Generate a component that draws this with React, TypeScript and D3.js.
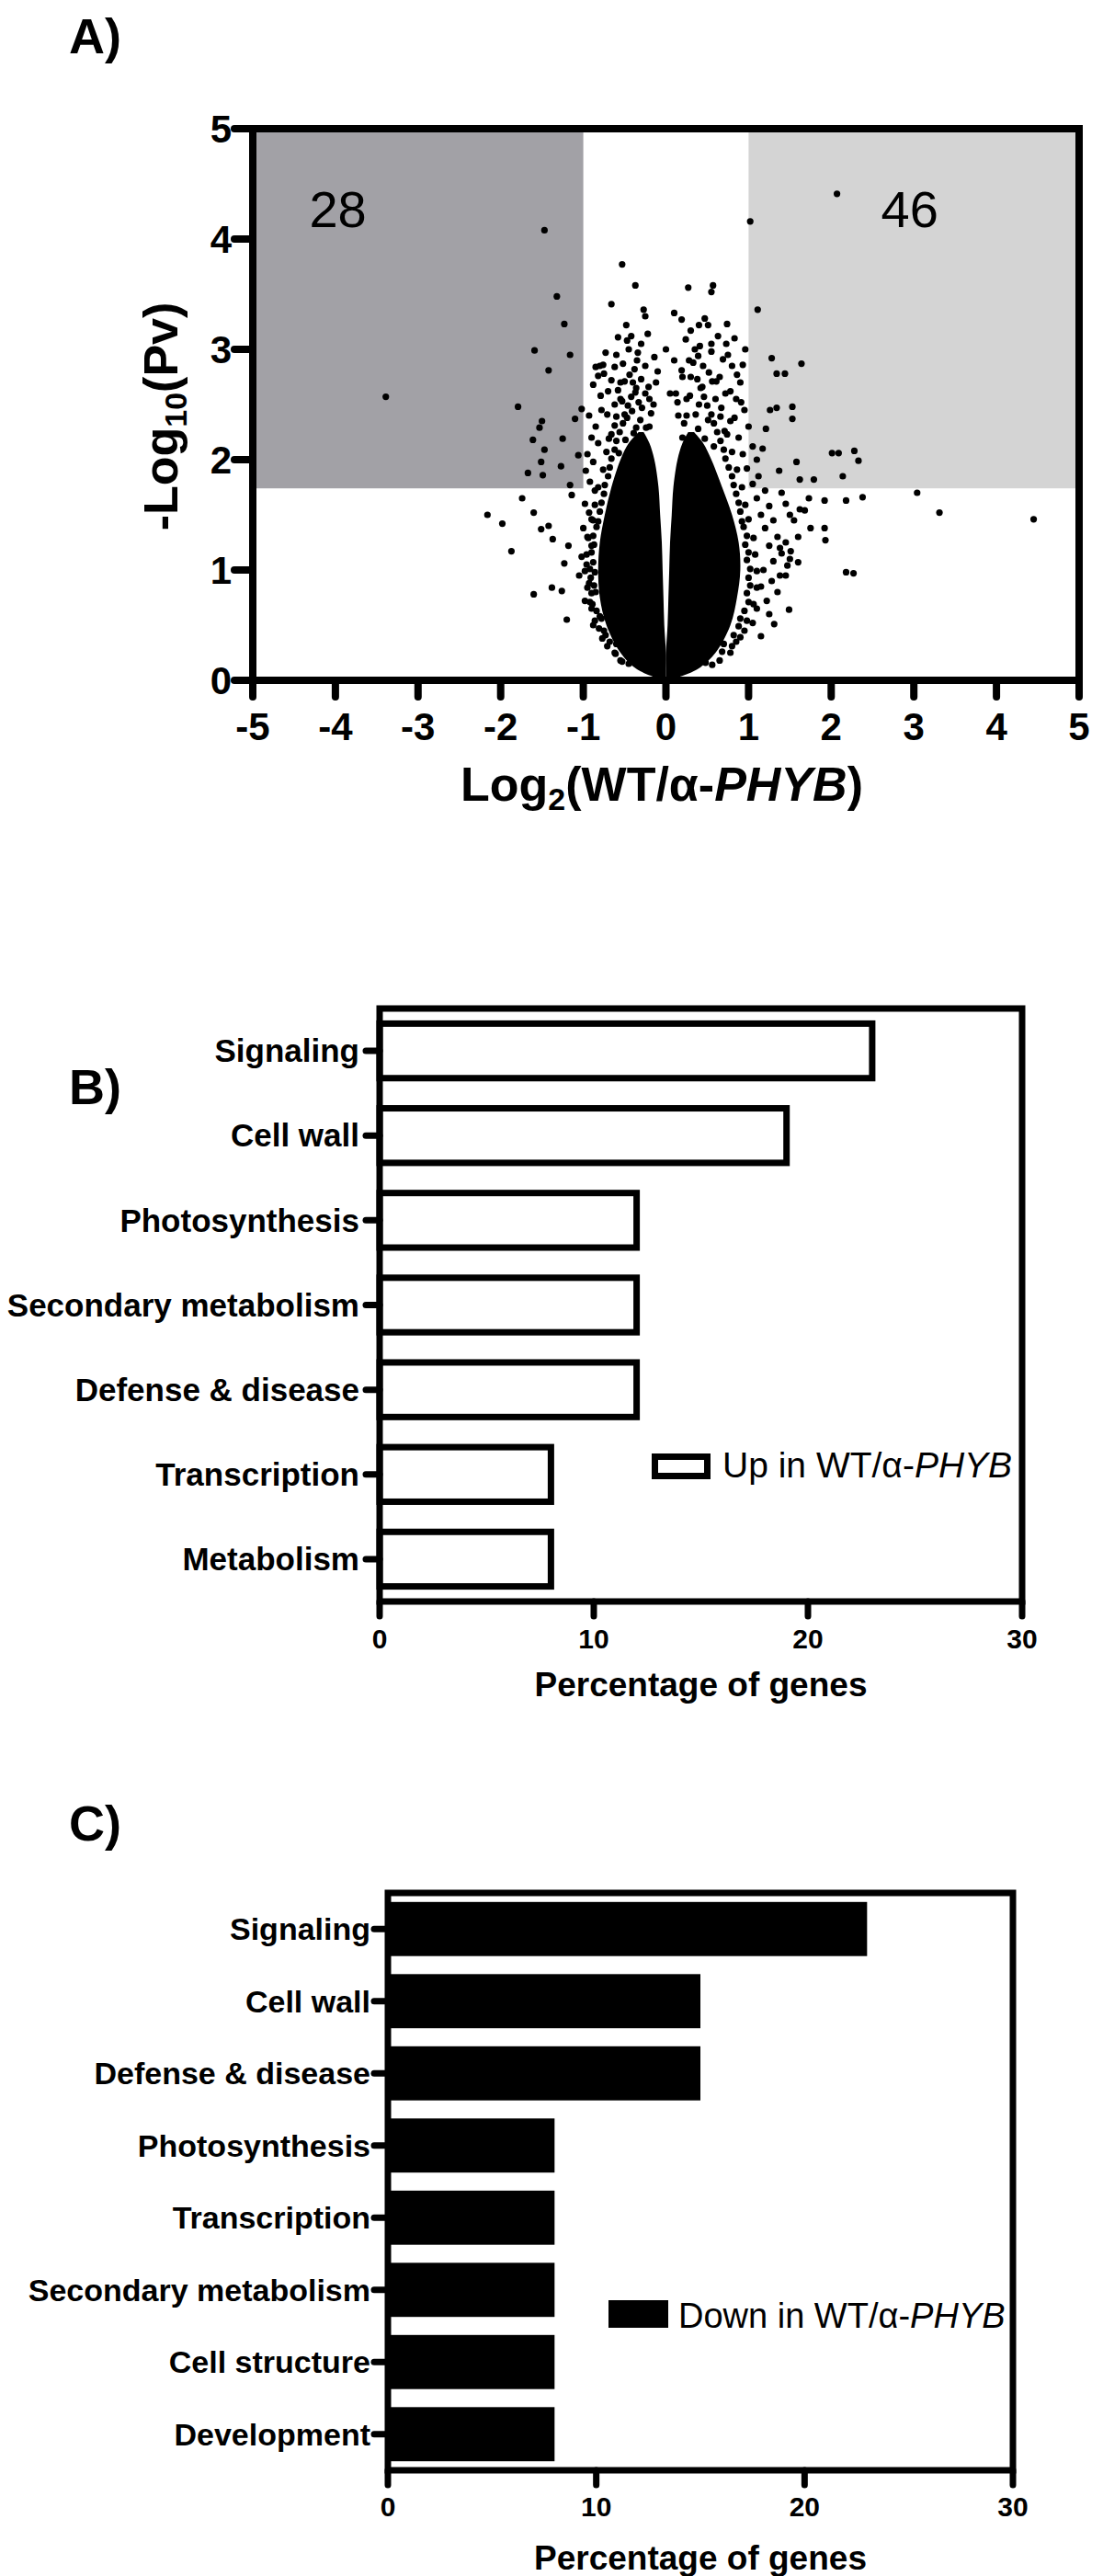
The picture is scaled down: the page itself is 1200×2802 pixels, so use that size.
import React from "react";
import * as d3 from "d3";

// ---------- Panel A data ----------
const volcanoXTicks = [-5, -4, -3, -2, -1, 0, 1, 2, 3, 4, 5];
const volcanoYTicks = [0, 1, 2, 3, 4, 5];
const pThreshold = 1.74;
const foldThreshold = 1;
const countDown = "28";
const countUp = "46";

// dense core of the volcano (solid black envelope)
const coreLeft = [
  { y: 0.0, x0: -0.03, x1: 0.0 },
  { y: 0.1, x0: -0.35, x1: 0.0 },
  { y: 0.25, x0: -0.55, x1: 0.0 },
  { y: 0.5, x0: -0.72, x1: -0.02 },
  { y: 0.75, x0: -0.8, x1: -0.03 },
  { y: 1.0, x0: -0.82, x1: -0.04 },
  { y: 1.25, x0: -0.8, x1: -0.05 },
  { y: 1.5, x0: -0.74, x1: -0.07 },
  { y: 1.75, x0: -0.66, x1: -0.09 },
  { y: 2.0, x0: -0.55, x1: -0.14 },
  { y: 2.15, x0: -0.45, x1: -0.2 },
  { y: 2.25, x0: -0.33, x1: -0.27 },
];
const coreRight = [
  { y: 0.0, x0: 0.0, x1: 0.03 },
  { y: 0.1, x0: 0.0, x1: 0.38 },
  { y: 0.25, x0: 0.0, x1: 0.6 },
  { y: 0.5, x0: 0.02, x1: 0.78 },
  { y: 0.75, x0: 0.03, x1: 0.86 },
  { y: 1.0, x0: 0.04, x1: 0.9 },
  { y: 1.25, x0: 0.05, x1: 0.88 },
  { y: 1.5, x0: 0.07, x1: 0.8 },
  { y: 1.75, x0: 0.09, x1: 0.68 },
  { y: 2.0, x0: 0.14, x1: 0.55 },
  { y: 2.15, x0: 0.2, x1: 0.45 },
  { y: 2.25, x0: 0.27, x1: 0.34 },
];

// individual genes outside the dense core: [log2 ratio, -log10 p]
const genePoints: [number, number][] = [
  // left outliers
  [-3.39, 2.57], [-1.47, 4.08], [-1.32, 3.48], [-1.23, 3.23], [-1.16, 2.95],
  [-1.59, 2.99], [-1.42, 2.81], [-1.79, 2.48], [-1.02, 2.46], [-1.1, 2.37],
  [-1.5, 2.35], [-1.53, 2.29], [-1.61, 2.18], [-1.25, 2.19], [-1.47, 2.09],
  [-1.67, 1.88], [-1.51, 1.98], [-1.49, 1.86], [-1.27, 1.94], [-1.16, 1.77],
  [-1.74, 1.65], [-1.6, 1.52], [-2.16, 1.5], [-1.98, 1.42], [-1.51, 1.37],
  [-1.42, 1.4], [-1.87, 1.17], [-1.37, 1.28], [-1.18, 1.22], [-1.23, 1.06],
  [-1.38, 0.84], [-1.6, 0.78], [-1.26, 0.81], [-1.2, 0.55], [-1.14, 1.68],
  [-1.06, 2.04],
  // right outliers
  [1.02, 4.16], [2.07, 4.41], [1.11, 3.36], [1.28, 2.92], [1.34, 2.78],
  [1.44, 2.78], [1.64, 2.87], [1.26, 2.45], [1.34, 2.47], [1.53, 2.48],
  [1.53, 2.37], [1.21, 2.28], [1.17, 2.1], [1.58, 1.98], [1.37, 1.9],
  [1.62, 1.82], [1.79, 1.82], [2.01, 2.06], [2.09, 2.06], [2.28, 2.08],
  [2.33, 1.99], [2.14, 1.85], [2.18, 1.63], [2.38, 1.66], [1.92, 1.63],
  [1.73, 1.65], [3.04, 1.7], [3.31, 1.52], [4.45, 1.46], [1.92, 1.38],
  [1.93, 1.27], [1.75, 1.38], [1.62, 1.55], [1.68, 1.54], [2.18, 0.98],
  [2.27, 0.97], [1.49, 0.64], [1.6, 1.07], [1.47, 1.04], [1.51, 1.17],
  [1.31, 0.51], [1.38, 0.95],
  // above the core
  [-0.53, 3.77], [-0.37, 3.58], [-0.66, 3.41], [0.27, 3.56], [0.57, 3.58],
  [0.55, 3.52], [-0.27, 3.36], [-0.25, 3.3], [0.1, 3.33], [0.19, 3.27],
  [0.4, 3.22], [0.51, 3.22], [0.74, 3.23], [0.83, 3.1], [-0.48, 3.22],
  [-0.42, 3.12], [0.96, 3.0], [-0.76, 2.86], [-0.82, 2.76], [0.93, 2.86],
  // left halo
  [-0.85, 2.84], [-0.8, 2.85], [-0.75, 2.78], [-0.7, 2.62], [-0.88, 2.68],
  [-0.78, 2.45], [-0.93, 2.4], [-0.85, 2.3], [-0.9, 2.2], [-0.82, 2.15],
  [-0.95, 2.05], [-0.88, 1.98], [-0.97, 1.9], [-0.92, 1.8], [-0.86, 1.72],
  [-0.98, 1.6], [-0.93, 1.52], [-0.88, 1.45], [-1.0, 1.38], [-0.95, 1.3],
  [-0.9, 1.22], [-1.02, 1.12], [-0.96, 1.05], [-0.86, 0.98], [-1.05, 0.95],
  [-0.93, 0.88], [-0.85, 0.8], [-0.98, 0.72], [-0.9, 0.65], [-0.8, 0.58],
  [-0.88, 0.5], [-0.75, 0.45], [-0.68, 0.35], [-0.62, 0.25], [-0.55, 0.18],
  [-0.62, 2.5], [-0.4, 2.7], [-0.55, 2.7], [-0.35, 2.9], [-0.45, 3.0],
  [-0.6, 2.95], [-0.3, 3.05], [-0.38, 2.82], [-0.25, 2.6],
  // left lobe edge
  [-0.45, 0.15], [-0.53, 0.17], [-0.61, 0.24], [-0.6, 0.33], [-0.71, 0.31],
  [-0.73, 0.41], [-0.77, 0.38], [-0.81, 0.47], [-0.78, 0.56], [-0.86, 0.54],
  [-0.84, 0.63], [-0.89, 0.69], [-0.92, 0.71], [-0.9, 0.79], [-0.87, 0.86],
  [-0.95, 0.84], [-0.91, 0.93], [-0.92, 1.01], [-0.98, 0.99], [-0.88, 1.07],
  [-0.9, 1.16], [-0.96, 1.14], [-0.87, 1.23], [-0.88, 1.31], [-0.94, 1.29],
  [-0.84, 1.39], [-0.82, 1.44], [-0.9, 1.46], [-0.8, 1.53], [-0.78, 1.61],
  [-0.86, 1.59], [-0.75, 1.69], [-0.74, 1.77], [-0.82, 1.75], [-0.7, 1.85],
  [-0.68, 1.93], [-0.76, 1.91], [-0.66, 2.01], [-0.62, 2.09], [-0.72, 2.07],
  [-0.6, 2.17], [-0.56, 2.25], [-0.66, 2.23], [-0.52, 2.33], [-0.5, 2.41],
  [-0.6, 2.39], [-0.46, 2.49], [-0.42, 2.57], [-0.55, 2.55], [-0.36, 2.65],
  [-0.3, 2.73], [-0.5, 2.71],
  // left upper cloud
  [-0.62, 2.31], [-0.47, 2.38], [-0.33, 2.52], [-0.71, 2.41], [-0.58, 2.63],
  [-0.29, 2.47], [-0.44, 2.77], [-0.66, 2.72], [-0.52, 2.87], [-0.21, 2.66],
  [-0.37, 2.61], [-0.79, 2.58], [-0.49, 2.18], [-0.36, 2.29], [-0.27, 2.17],
  [-0.57, 2.06], [-0.41, 2.44], [-0.69, 2.19], [-0.53, 2.53], [-0.31, 2.36],
  [-0.18, 2.42], [-0.62, 2.84], [-0.34, 2.97], [-0.73, 2.97], [-0.14, 2.93],
  [-0.47, 3.08], [-0.22, 3.14], [-0.58, 3.11], [-0.39, 2.24], [-0.24, 2.29],
  // right halo
  [0.75, 2.95], [0.8, 2.85], [0.65, 2.75], [0.9, 2.7], [0.72, 2.6],
  [0.85, 2.55], [0.95, 2.45], [0.78, 2.35], [1.0, 2.3], [0.88, 2.2],
  [1.05, 2.12], [0.93, 2.05], [1.1, 2.0], [0.98, 1.92], [1.12, 1.85],
  [1.05, 1.78], [1.2, 1.72], [1.1, 1.65], [1.25, 1.58], [1.15, 1.5],
  [1.3, 1.45], [1.2, 1.38], [1.35, 1.3], [1.25, 1.22], [1.4, 1.15],
  [1.3, 1.08], [1.18, 1.0], [1.45, 0.95], [1.28, 0.9], [1.15, 0.85],
  [1.35, 0.8], [1.22, 0.72], [1.1, 0.65], [1.25, 0.6], [1.05, 0.52],
  [0.95, 0.45], [1.15, 0.4], [0.85, 0.35], [0.78, 0.25], [0.65, 0.18],
  [0.45, 2.85], [0.35, 3.0], [0.55, 3.05], [0.3, 2.75], [0.25, 2.55],
  [0.4, 2.5], [1.5, 1.5], [1.55, 1.45], [1.45, 1.6], [1.4, 1.7],
  [1.38, 1.2], [1.5, 1.1], [1.45, 1.25], [1.6, 1.3],
  // right lobe edge
  [0.48, 0.16], [0.56, 0.14], [0.68, 0.26], [0.7, 0.33], [0.8, 0.31],
  [0.82, 0.41], [0.9, 0.39], [0.88, 0.49], [0.9, 0.56], [0.98, 0.54],
  [0.95, 0.63], [1.0, 0.71], [1.06, 0.69], [0.98, 0.79], [1.02, 0.86],
  [1.1, 0.84], [1.0, 0.93], [1.02, 1.01], [1.1, 0.99], [0.98, 1.09],
  [1.0, 1.16], [1.08, 1.14], [0.96, 1.23], [0.98, 1.31], [1.06, 1.29],
  [0.94, 1.39], [0.92, 1.44], [1.0, 1.46], [0.9, 1.53], [0.88, 1.61],
  [0.96, 1.59], [0.85, 1.69], [0.82, 1.77], [0.92, 1.75], [0.8, 1.85],
  [0.76, 1.93], [0.86, 1.91], [0.72, 2.01], [0.7, 2.09], [0.8, 2.07],
  [0.66, 2.17], [0.62, 2.25], [0.74, 2.23], [0.58, 2.33], [0.55, 2.41],
  [0.66, 2.39], [0.5, 2.49], [0.46, 2.57], [0.6, 2.55], [0.42, 2.65],
  [0.38, 2.73], [0.56, 2.71],
  // right upper cloud
  [0.22, 2.33], [0.36, 2.41], [0.51, 2.36], [0.67, 2.47], [0.29, 2.58],
  [0.44, 2.66], [0.61, 2.71], [0.78, 2.62], [0.19, 2.81], [0.33, 2.88],
  [0.52, 2.79], [0.69, 2.91], [0.86, 2.77], [0.41, 3.03], [0.63, 3.12],
  [0.24, 3.09], [0.47, 2.19], [0.58, 2.12], [0.71, 2.26], [0.31, 2.21],
  [0.83, 2.38], [0.39, 2.94], [0.14, 2.52], [0.55, 2.98], [0.73, 3.05],
  [0.91, 2.52], [0.47, 3.28], [0.3, 3.17], [0.39, 2.28], [0.25, 2.4],
  // between lobes
  [-0.15, 2.5], [0.15, 2.4], [-0.1, 2.8], [0.1, 2.9], [0.05, 2.6],
  [-0.2, 2.3], [0.2, 2.2], [-0.2, 2.55], [-0.12, 2.7], [0.12, 2.6],
  [0.2, 2.75], [-0.25, 2.85], [0.28, 2.9], [0.0, 3.0],
];

// ---------- Panel B data ----------
const upCategories = [
  "Signaling", "Cell wall", "Photosynthesis", "Secondary metabolism",
  "Defense & disease", "Transcription", "Metabolism",
];
const upValues = [23, 19, 12, 12, 12, 8, 8];

// ---------- Panel C data ----------
const downCategories = [
  "Signaling", "Cell wall", "Defense & disease", "Photosynthesis",
  "Transcription", "Secondary metabolism", "Cell structure", "Development",
];
const downValues = [23, 15, 15, 8, 8, 8, 8, 8];

const pctTicks = [0, 10, 20, 30];

const FONT = "'Liberation Sans', Arial, Helvetica, sans-serif";

function Volcano() {
  const x = d3.scaleLinear().domain([-5, 5]).range([275, 1174]);
  const y = d3.scaleLinear().domain([0, 5]).range([740, 140]);
  const area = d3
    .area<{ y: number; x0: number; x1: number }>()
    .y((d) => y(d.y))
    .x0((d) => x(d.x0))
    .x1((d) => x(d.x1))
    .curve(d3.curveCatmullRom);
  return (
    <g>
      <text x={75} y={58} fontFamily={FONT} fontWeight="bold" fontSize={54}>A)</text>
      <rect x={x(-5)} y={y(5)} width={x(-foldThreshold) - x(-5)} height={y(pThreshold) - y(5)} fill="#a2a1a6" />
      <rect x={x(foldThreshold)} y={y(5)} width={x(5) - x(foldThreshold)} height={y(pThreshold) - y(5)} fill="#d4d4d4" />
      <text x={x(-3.97)} y={y(4.11)} textAnchor="middle" fontFamily={FONT} fontSize={56}>{countDown}</text>
      <text x={x(2.95)} y={y(4.11)} textAnchor="middle" fontFamily={FONT} fontSize={56}>{countUp}</text>
      <path d={area(coreLeft) || ""} fill="#000" />
      <path d={area(coreRight) || ""} fill="#000" />
      {genePoints.map((p, i) => (
        <circle key={i} cx={x(p[0])} cy={y(p[1])} r={3.6} fill="#000" />
      ))}
      <path d={`M${x(-5)},${y(5)}H${x(5)}V${y(0)}H${x(-5)}Z`} fill="none" stroke="#000" strokeWidth={8} />
      {volcanoYTicks.map((t) => (
        <g key={t}>
          <line x1={255} x2={x(-5)} y1={y(t)} y2={y(t)} stroke="#000" strokeWidth={8} strokeLinecap="round" />
          <text x={252} y={y(t)} dy="0.36em" textAnchor="end" fontFamily={FONT} fontWeight="bold" fontSize={42}>{t}</text>
        </g>
      ))}
      {volcanoXTicks.map((t) => (
        <g key={t}>
          <line x1={x(t)} x2={x(t)} y1={y(0)} y2={758} stroke="#000" strokeWidth={8} strokeLinecap="round" />
          <text x={x(t)} y={805} textAnchor="middle" fontFamily={FONT} fontWeight="bold" fontSize={42}>{t}</text>
        </g>
      ))}
      <text x={720} y={871} textAnchor="middle" fontFamily={FONT} fontWeight="bold" fontSize={52}>
        Log<tspan fontSize={34} dy={10}>2</tspan>
        <tspan dy={-10}>(WT/α-</tspan>
        <tspan fontStyle="italic">PHYB</tspan>)
      </text>
      <text transform="translate(193,453) rotate(-90)" textAnchor="middle" fontFamily={FONT} fontWeight="bold" fontSize={52}>
        -Log<tspan fontSize={34} dy={10}>10</tspan>
        <tspan dy={-10}>(Pv)</tspan>
      </text>
    </g>
  );
}

function BarPanel(props: {
  label: string;
  labelY: number;
  categories: string[];
  values: number[];
  left: number;
  right: number;
  top: number;
  bottom: number;
  padding: number;
  filled: boolean;
  labelRight: number;
  labelSize: number;
  tickBaseline: number;
  titleBaseline: number;
  legendBox: [number, number, number, number];
  legendX: number;
  legendBaseline: number;
  legendSize: number;
  legendText: string;
}) {
  const p = props;
  const x = d3.scaleLinear().domain([0, 30]).range([p.left, p.right]);
  const y = d3.scaleBand<string>().domain(p.categories).range([p.top, p.bottom]).paddingInner(p.padding).paddingOuter(p.padding / 2);
  const sw = 7;
  return (
    <g>
      <text x={75} y={p.labelY} fontFamily={FONT} fontWeight="bold" fontSize={54}>{p.label}</text>
      {p.categories.map((c, i) =>
        p.filled ? (
          <rect key={c} x={x(0)} y={y(c)!} width={x(p.values[i]) - x(0)} height={y.bandwidth()} fill="#000" />
        ) : (
          <rect key={c} x={x(0)} y={y(c)! + sw / 2} width={x(p.values[i]) - x(0)} height={y.bandwidth() - sw} fill="#fff" stroke="#000" strokeWidth={sw} />
        )
      )}
      <path d={`M${p.left},${p.top}H${p.right}V${p.bottom}H${p.left}Z`} fill="none" stroke="#000" strokeWidth={sw} />
      {p.categories.map((c) => {
        const cy = y(c)! + y.bandwidth() / 2;
        return (
          <g key={c}>
            <line x1={p.left - 15} x2={p.left} y1={cy} y2={cy} stroke="#000" strokeWidth={sw} strokeLinecap="round" />
            <text x={p.labelRight} y={cy} dy="0.35em" textAnchor="end" fontFamily={FONT} fontWeight="bold" fontSize={p.labelSize}>{c}</text>
          </g>
        );
      })}
      {pctTicks.map((t) => (
        <g key={t}>
          <line x1={x(t)} x2={x(t)} y1={p.bottom} y2={p.bottom + 16} stroke="#000" strokeWidth={sw} strokeLinecap="round" />
          <text x={x(t)} y={p.tickBaseline} textAnchor="middle" fontFamily={FONT} fontWeight="bold" fontSize={30}>{t}</text>
        </g>
      ))}
      <text x={(p.left + p.right) / 2} y={p.titleBaseline} textAnchor="middle" fontFamily={FONT} fontWeight="bold" fontSize={37}>Percentage of genes</text>
      {p.filled ? (
        <rect x={p.legendBox[0]} y={p.legendBox[1]} width={p.legendBox[2]} height={p.legendBox[3]} fill="#000" />
      ) : (
        <rect x={p.legendBox[0] + sw / 2} y={p.legendBox[1] + sw / 2} width={p.legendBox[2] - sw} height={p.legendBox[3] - sw} fill="#fff" stroke="#000" strokeWidth={sw} />
      )}
      <text x={p.legendX} y={p.legendBaseline} fontFamily={FONT} fontSize={p.legendSize}>
        {p.legendText}<tspan fontStyle="italic">PHYB</tspan>
      </text>
    </g>
  );
}

export default function App() {
  return (
    <svg width={1200} height={2802} style={{ position: "absolute", left: 0, top: 0, display: "block", background: "#fff" }}>
      <rect width={1200} height={2802} fill="#fff" />
      <Volcano />
      <BarPanel
        label="B)" labelY={1201}
        categories={upCategories} values={upValues}
        left={413} right={1112} top={1097} bottom={1742}
        padding={0.28} filled={false} labelRight={391} labelSize={35}
        tickBaseline={1793} titleBaseline={1845}
        legendBox={[709, 1581, 64, 28]} legendX={786} legendBaseline={1607} legendSize={39}
        legendText="Up in WT/α-"
      />
      <BarPanel
        label="C)" labelY={2002}
        categories={downCategories} values={downValues}
        left={422} right={1102} top={2059} bottom={2687}
        padding={0.25} filled={true} labelRight={403} labelSize={34}
        tickBaseline={2737} titleBaseline={2795}
        legendBox={[662, 2502, 65, 30]} legendX={738} legendBaseline={2532} legendSize={38}
        legendText="Down in WT/α-"
      />
    </svg>
  );
}
